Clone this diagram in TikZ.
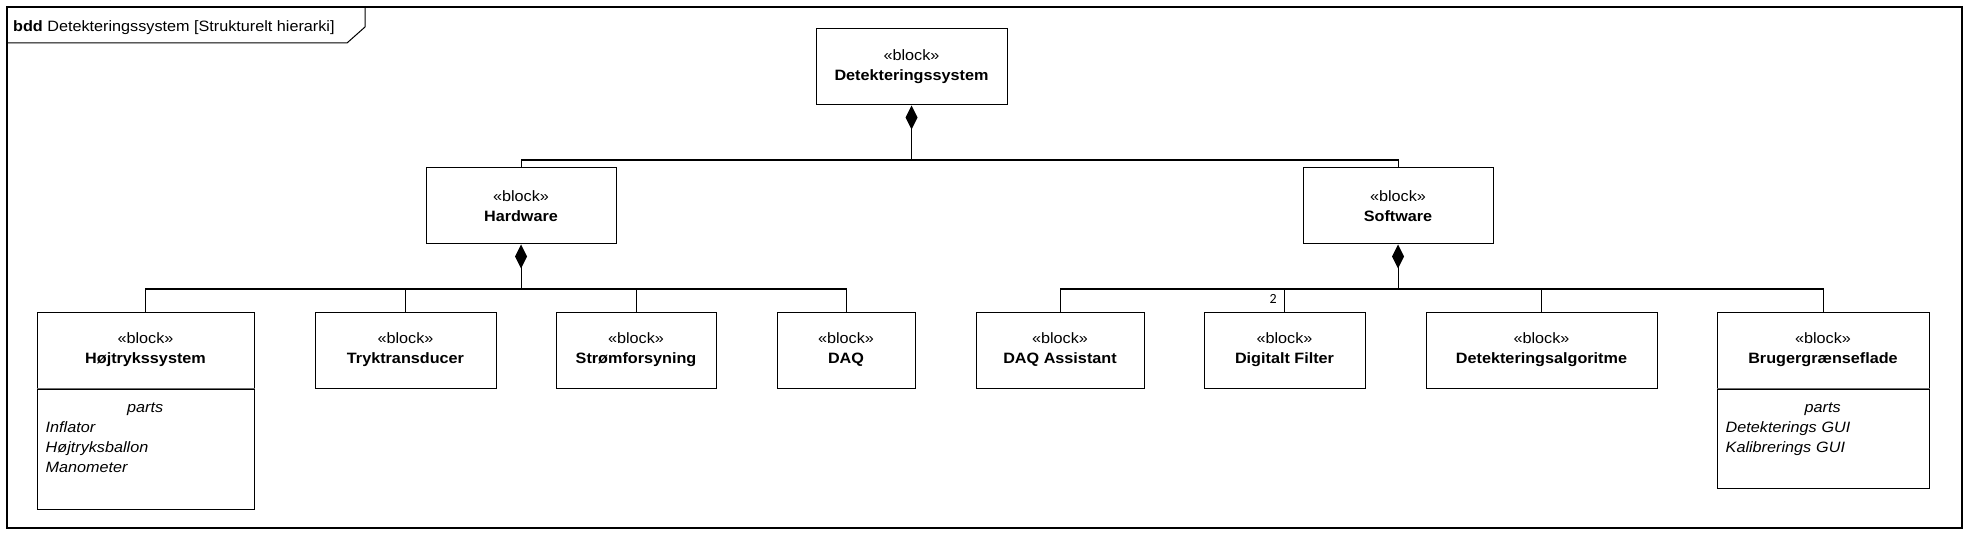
\documentclass[tikz,border=0pt]{standalone}
\usepackage{fontspec}
\setmainfont{Liberation Sans}[FakeStretch=1.08]
\newfontfamily\multfont{Carlito}
\usetikzlibrary{arrows.meta}
\definecolor{sepgray}{RGB}{110,110,110}

\begin{document}
\begin{tikzpicture}[x=1pt,y=-1pt,
        every node/.style={font=\fontsize{15}{20}\selectfont},
        block/.style={draw,line width=1pt,minimum height=76,align=center,inner sep=0pt},
        compartment/.style={draw,line width=1pt,inner sep=0pt,anchor=north},
        partlist/.style={anchor=north west,inner sep=0pt,align=left,font=\fontsize{15}{20}\selectfont\itshape},
        part/.style={line width=1pt},
        bus/.style={line width=1.8pt},
        comp/.style={line width=1pt,-{Diamond[length=24pt,width=12pt]}}]
        \useasboundingbox (0,0) rectangle (1974,540);
        % frame
        \draw[line width=1.2pt] (7,7) rectangle (1962,528);
        \draw[line width=1pt] (7,43) -- (347,43) -- (365,27) -- (365,7);
        \node[anchor=base west,inner sep=0pt] (title) at (13,32) {\textbf{bdd} Detekteringssystem [Strukturelt hierarki]};
        % blocks
        \node[block,minimum width=191] (sys) at (911.5,67) {«block»\\\textbf{Detekteringssystem}};
        \node[block,minimum width=190] (hw) at (521,206) {«block»\\\textbf{Hardware}};
        \node[block,minimum width=190] (sw) at (1398,206) {«block»\\\textbf{Software}};
        \node[block,minimum width=217] (htr) at (145.5,350) {«block»\\\textbf{Højtrykssystem}};
        \node[block,minimum width=181] (tt) at (405.5,350) {«block»\\\textbf{Tryktransducer}};
        \node[block,minimum width=160] (sf) at (636,350) {«block»\\\textbf{Strømforsyning}};
        \node[block,minimum width=138] (daq) at (846,350) {«block»\\\textbf{DAQ}};
        \node[block,minimum width=168] (daqa) at (1060,350) {«block»\\\textbf{DAQ Assistant}};
        \node[block,minimum width=161] (df) at (1284.5,350) {«block»\\\textbf{Digitalt Filter}};
        \node[block,minimum width=231] (alg) at (1541.5,350) {«block»\\\textbf{Detekteringsalgoritme}};
        \node[block,minimum width=212] (bgf) at (1823,350) {«block»\\\textbf{Brugergrænseflade}};
        % parts
        \node[compartment,minimum width=217,minimum height=120] (htrparts) at (htr.south) {};
        \node[compartment,minimum width=212,minimum height=99] (bgfparts) at (bgf.south) {};
        \draw[line width=1pt,sepgray] (htr.south west) -- (htr.south east);
        \draw[line width=1pt,sepgray] (bgf.south west) -- (bgf.south east);
        \node[partlist,text width=199] (htrlist) at ([xshift=9pt,yshift=-14pt]htrparts.north west)
            {\makebox[\linewidth]{parts}\\Inflator\\Højtryksballon\\Manometer};
        \node[partlist,text width=194] (bgflist) at ([xshift=9pt,yshift=-14pt]bgfparts.north west)
            {\makebox[\linewidth]{parts}\\Detekterings GUI\\Kalibrerings GUI};
        % connectors
        \coordinate (sysbus) at (911.5,160);
        \coordinate (hwbus) at (521,289);
        \coordinate (swbus) at (1398,289);
        \draw[part] (hw.north) |- (sysbus);
        \draw[part] (sw.north) |- (sysbus);
        \draw[bus] (hw.north |- sysbus) -- (sw.north |- sysbus);
        \draw[comp] (sysbus) -- (sys.south);
        \draw[part] (htr.north) |- (hwbus);
        \draw[part] (tt.north) |- (hwbus);
        \draw[part] (sf.north) |- (hwbus);
        \draw[part] (daq.north) |- (hwbus);
        \draw[bus] (htr.north |- hwbus) -- (daq.north |- hwbus);
        \draw[comp] (hwbus) -- (hw.south);
        \draw[part] (daqa.north) |- (swbus);
        \draw[part] (df.north) |- (swbus);
        \draw[part] (alg.north) |- (swbus);
        \draw[part] (bgf.north) |- (swbus);
        \draw[bus] (daqa.north |- swbus) -- (bgf.north |- swbus);
        \draw[comp] (swbus) -- (sw.south);
        \node[anchor=north east,inner sep=0pt,font=\multfont\fontsize{14}{14}\selectfont] (dfmult) at (1277,294) {2};
\end{tikzpicture}
\end{document}
